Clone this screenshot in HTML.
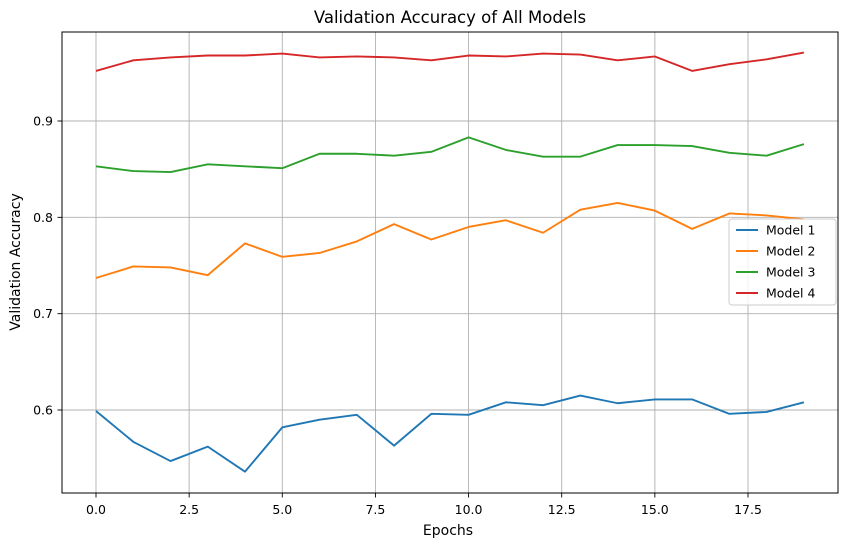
<!DOCTYPE html>
<html><head><meta charset="utf-8"><style>
body{margin:0;background:#fff;}
svg{display:block;font-family:"DejaVu Sans","Liberation Sans",sans-serif;}
</style></head><body>
<svg id="chart" width="846" height="547">
<rect x="0" y="0" width="846" height="547" fill="#fff"/>
<g id="grid"></g>
<g id="series"></g>
<rect x="62" y="32" width="776" height="461" fill="none" stroke="#000" stroke-width="1"/>
<g id="ticks"></g>
<text x="450" y="23" text-anchor="middle" font-size="16.5">Validation Accuracy of All Models</text>
<text x="448" y="535" text-anchor="middle" font-size="14">Epochs</text>
<text transform="translate(20,262) rotate(-90)" text-anchor="middle" font-size="14">Validation Accuracy</text>
<g id="legend"></g>
</svg>
<script>
const epochs = [0,1,2,3,4,5,6,7,8,9,10,11,12,13,14,15,16,17,18,19];
const model1 = [.599,.567,.547,.562,.536,.582,.590,.595,.563,.596,.595,.608,.605,.615,.607,.611,.611,.596,.598,.608];
const model2 = [.737,.749,.748,.740,.773,.759,.763,.775,.793,.777,.790,.797,.784,.808,.815,.807,.788,.804,.802,.798];
const model3 = [.853,.848,.847,.855,.853,.851,.866,.866,.864,.868,.883,.870,.863,.863,.875,.875,.874,.867,.864,.876];
const model4 = [.952,.963,.966,.968,.968,.970,.966,.967,.966,.963,.968,.967,.970,.969,.963,.967,.952,.959,.964,.971];
const seriesNames = ["Model 1","Model 2","Model 3","Model 4"];
const xTicks = [0,2.5,5,7.5,10,12.5,15,17.5];
const xTickLabels = ["0.0","2.5","5.0","7.5","10.0","12.5","15.0","17.5"];
const yTicks = [0.6,0.7,0.8,0.9];
const yTickLabels = ["0.6","0.7","0.8","0.9"];

const colors = ["#1f77b4","#ff7f0e","#2ca02c","#d62728"];
const NS="http://www.w3.org/2000/svg";
const L=62,R=838,T=32,B=493;
function xs(v){return 96+v*(748-96)/17.5;}
function ys(v){return 410-(v-0.6)*963.3;}
function mk(tag,attrs,parent){const e=document.createElementNS(NS,tag);for(const k in attrs)e.setAttribute(k,attrs[k]);parent.appendChild(e);return e;}
const grid=document.getElementById('grid'),ticks=document.getElementById('ticks'),ser=document.getElementById('series'),leg=document.getElementById('legend');
xTicks.forEach((t,i)=>{
  const x=xs(t);
  const g=mk('line',{x1:x,x2:x,y1:T,y2:B,stroke:'#b0b0b0','stroke-width':0.9},grid);
  
  
  const tk=mk('line',{x1:x,x2:x,y1:B,y2:B+4.5,stroke:'#000','stroke-width':0.9},ticks);
  
  
  const tl=mk('text',{x:x,y:B+21,'text-anchor':'middle','font-size':12.5},ticks);
  tl.textContent=xTickLabels[i];
  
  
});
yTicks.forEach((t,i)=>{
  const y=ys(t);
  const g=mk('line',{x1:L,x2:R,y1:y,y2:y,stroke:'#b0b0b0','stroke-width':0.9},grid);
  
  
  const tk=mk('line',{x1:L-4.5,x2:L,y1:y,y2:y,stroke:'#000','stroke-width':0.9},ticks);
  
  
  const tl=mk('text',{x:L-9,y:y+4.5,'text-anchor':'end','font-size':12.5},ticks);
  tl.textContent=yTickLabels[i];
  
  
});
[model1,model2,model3,model4].forEach((d,s)=>{
  const p=mk('polyline',{points:d.map((v,i)=>xs(epochs[i])+','+ys(v)).join(' '),fill:'none',stroke:colors[s],'stroke-width':1.9,'stroke-linejoin':'round'},ser);
  
  
});
const lb=mk('rect',{x:729,y:219,width:107,height:86,rx:3,fill:'#fff','fill-opacity':0.8,stroke:'#ccc'},leg);


seriesNames.forEach((n,i)=>{
  const y=230+i*21;
  const ln=mk('line',{x1:736,x2:758,y1:y,y2:y,stroke:colors[i],'stroke-width':1.9},leg);
  
  
  const t=mk('text',{x:766,y:y+4.5,'font-size':12.5},leg);
  t.textContent=n;
  
  
});
</script>
</body></html>
